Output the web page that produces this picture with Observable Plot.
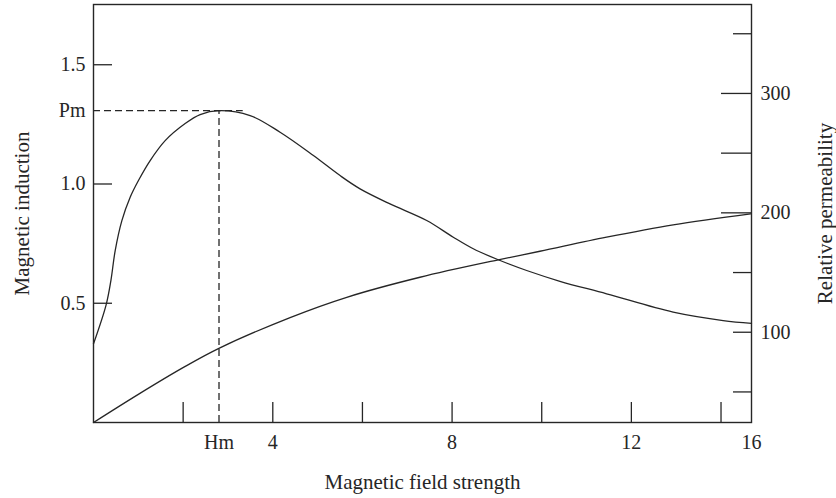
<!DOCTYPE html>
<html><head><meta charset="utf-8">
<script src="https://cdn.jsdelivr.net/npm/d3@7"></script>
<script src="https://cdn.jsdelivr.net/npm/@observablehq/plot@0.6"></script>
<style>body{margin:0;background:#fff}</style>
</head><body><div id="chart"></div>
<script>
// Relative permeability curve (right axis units)
const permX  = [0, 0.283, 0.388, 0.484, 0.633, 0.818, 1.003, 1.264, 1.599, 2.045, 2.379, 2.8, 3.494, 4.163, 4.906, 5.501, 5.947, 6.615, 7.434, 8.027, 8.473, 9.03, 9.664, 10.406, 11.447, 12.932, 14.047, 14.68];
const permMu = [90.3, 123.2, 143.3, 168.4, 193.5, 213.1, 227.1, 243.8, 260.5, 274.8, 282.3, 285.6, 281.5, 267.5, 248.0, 231.2, 220.1, 207.5, 193.6, 179.6, 169.9, 160.7, 151.7, 142.7, 132.2, 116.8, 109.8, 107.5];
// Magnetic induction curve (left axis units)
const indX = [0, 1.0, 2.007, 2.809, 4.386, 5.65, 7.284, 9.03, 9.96, 11.447, 12.932, 14.66];
const indB = [0, 0.118, 0.231, 0.312, 0.44, 0.525, 0.609, 0.682, 0.718, 0.777, 0.829, 0.875];

const Pm = 1.308, Hm = 2.8;
const xDomain = [0, 14.68];
const yDomain = [0, 1.7526];
const rightDomain = [24.4, 374.5];

const xTickValues = [2, 4, 6, 8, 10, 12, 14];
const xLabelValues = [Hm, 4, 8, 12, 14.68];
const xLabelTexts = ["Hm", "4", "8", "12", "16"];
const leftTickValues = [0.5, 1.0, 1.5];
const leftLabelValues = [0.5, Pm, 1.0, 1.5];
const leftLabelTexts = ["0.5", "Pm", "1.0", "1.5"];
const rightLabelValues = [100, 200, 300];
const rightLongTicks = [200, 250, 300];
const rightShortTicks = [50, 100, 150, 350];
const pmLineEnd = 3.34;

const toL = v => (v - rightDomain[0]) / (rightDomain[1] - rightDomain[0]) * yDomain[1];
const perm = permX.map((x, i) => ({x, mu: permMu[i]}));
const ind = indX.map((x, i) => ({x, b: indB[i]}));

const xFmt = new Map(xLabelValues.map((v, i) => [v, xLabelTexts[i]]));
const lFmt = new Map(leftLabelValues.map((v, i) => [v, leftLabelTexts[i]]));
const rVals = rightLabelValues.map(toL);
const rFmt = new Map(rVals.map((v, i) => [v, String(rightLabelValues[i])]));

const ink = "#262626";
const W = 836, H = 498, mL = 93, mR = 85, mT = 4, mB = 76;
const fw = W - mL - mR, fh = H - mT - mB;

const chart = Plot.plot({
  width: W, height: H,
  marginLeft: mL, marginRight: mR, marginTop: mT, marginBottom: mB,
  style: {fontFamily: "'Liberation Serif', serif", fontSize: "20px", color: ink, background: "#fff"},
  x: {domain: xDomain},
  y: {domain: yDomain},
  marks: [
    Plot.axisX(xLabelValues, {tickSize: 0, tickPadding: 12, tickFormat: d => xFmt.get(d), label: null, fontSize: 20, fill: ink}),
    Plot.axisY(leftLabelValues, {anchor: "left", tickSize: 0, tickPadding: 8, tickFormat: d => lFmt.get(d), label: null, fontSize: 20, fill: ink}),
    Plot.axisY(rVals, {anchor: "right", tickSize: 0, tickPadding: 9, tickFormat: d => rFmt.get(d), label: null, fontSize: 20, fill: ink}),
    Plot.tickX(xTickValues, {insetTop: fh - 20, stroke: ink, strokeWidth: 1.3}),
    Plot.tickY(leftTickValues, {insetRight: fw - 19, stroke: ink, strokeWidth: 1.3}),
    Plot.tickY(rightLongTicks.map(toL), {insetLeft: fw - 30, stroke: ink, strokeWidth: 1.3}),
    Plot.tickY(rightShortTicks.map(toL), {insetLeft: fw - 18, stroke: ink, strokeWidth: 1.3}),
    Plot.ruleY([Pm], {x1: 0, x2: pmLineEnd, stroke: ink, strokeWidth: 1.3, strokeDasharray: "7,4"}),
    Plot.ruleX([Hm], {y1: 0, y2: Pm, stroke: ink, strokeWidth: 1.3, strokeDasharray: "7,4"}),
    Plot.line(perm, {x: "x", y: d => toL(d.mu), curve: "catmull-rom", stroke: ink, strokeWidth: 1.3}),
    Plot.line(ind, {x: "x", y: "b", curve: "catmull-rom", stroke: ink, strokeWidth: 1.3}),
    Plot.frame({stroke: ink, strokeWidth: 1.4}),
    Plot.text(["Magnetic induction"], {frameAnchor: "left", dx: -71, rotate: -90, textAnchor: "middle", lineAnchor: "middle", fontSize: 21, fill: ink}),
    Plot.text(["Relative permeability"], {frameAnchor: "right", dx: 74, rotate: -90, textAnchor: "middle", lineAnchor: "middle", fontSize: 21, fill: ink}),
    Plot.text(["Magnetic field strength"], {frameAnchor: "bottom", dy: 60, textAnchor: "middle", lineAnchor: "middle", fontSize: 21, fill: ink})
  ]
});
document.getElementById("chart").append(chart);
</script>
</body></html>
